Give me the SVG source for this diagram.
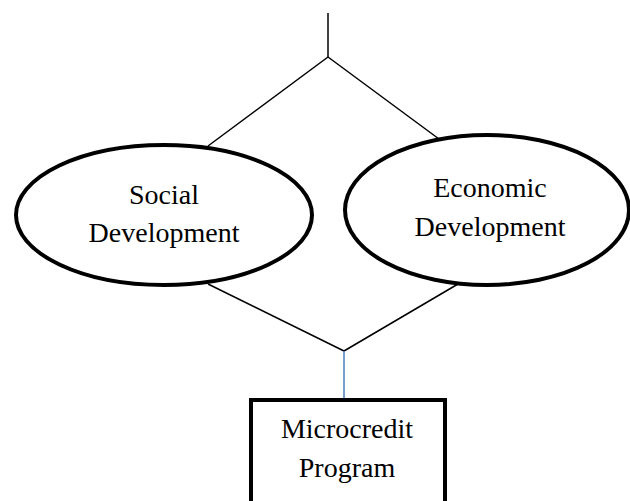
<svg xmlns="http://www.w3.org/2000/svg" width="630" height="501" viewBox="0 0 630 501">
<style>
.c{stroke:#000;stroke-width:1.5;fill:none}
.n{stroke:#000;stroke-width:4;fill:#fff}
text{font-family:"Liberation Serif","Times New Roman",serif;font-size:28px;fill:#000;text-anchor:middle}
</style>
<rect width="630" height="501" fill="#fff"/>
<g id="connectors">
<line class="c" x1="328" y1="13" x2="328" y2="57"/>
<line class="c" x1="328" y1="57" x2="208" y2="146"/>
<line class="c" x1="328" y1="57" x2="439" y2="139"/>
<line class="c" x1="208" y1="284" x2="344" y2="351"/>
<line class="c" x1="458" y1="284" x2="344" y2="351"/>
<line x1="344" y1="351" x2="344" y2="400" stroke="#4a7ebb" stroke-width="1.5"/>
</g>
<g id="social">
<ellipse class="n" cx="164" cy="215" rx="148" ry="70"/>
<text x="164" y="204">Social</text>
<text x="164" y="242">Development</text>
</g>
<g id="economic">
<ellipse class="n" cx="487" cy="210" rx="142" ry="75"/>
<text x="490" y="197">Economic</text>
<text x="490" y="236">Development</text>
</g>
<g id="microcredit">
<rect class="n" x="251" y="400" width="194" height="110"/>
<text x="347" y="438">Microcredit</text>
<text x="347" y="477">Program</text>
</g>
</svg>
